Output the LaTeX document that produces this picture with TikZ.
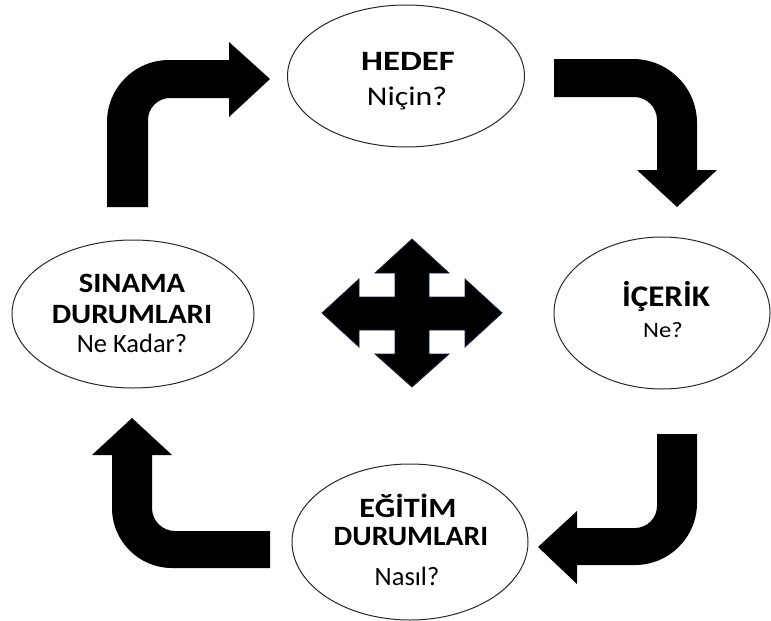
\documentclass[tikz,border=0pt]{standalone}
\usepackage{fontspec}
\usepackage{graphicx}
\setmainfont{Carlito}
\usetikzlibrary{shapes.geometric}
\begin{document}
\begin{tikzpicture}[x=1pt,y=-1pt,
  ell/.style={draw={rgb,255:red,40;green,40;blue,40}, line width=1pt, ellipse, inner sep=0pt},
  blockarrow/.style={fill=black, draw=none},
  crossarrow/.style={fill=black, draw={rgb,255:red,25;green,35;blue,70}, line width=0.8pt, line join=miter},
  ttl/.style={font=\fontsize{28pt}{30pt}\selectfont\bfseries, anchor=base, inner sep=0pt},
  sub/.style={font=\fontsize{27pt}{30pt}\selectfont, anchor=base, inner sep=0pt}
]
\useasboundingbox (0,0) rectangle (771,621);
% ellipses
\node[ell, minimum width=237pt, minimum height=142pt] (hedef) at (406,76) {};
\node[ell, minimum width=216pt, minimum height=152pt] (icerik) at (662,313) {};
\node[ell, minimum width=242pt, minimum height=148pt] (sinama) at (133,314) {};
\node[ell, minimum width=236pt, minimum height=156pt] (egitim) at (410,542) {};
% texts
\node[ttl] (hedefA) at (408,70) {\scalebox{1.24}[1]{HEDEF}};
\node[sub] (hedefB) at (407,105) {\scalebox{1.18}[1]{Niçin?}};
\node[ttl, font=\fontsize{30pt}{32pt}\selectfont\bfseries] (icerikA) at (666,306) {\scalebox{1.1}[1]{İÇERİK}};
\node[sub, font=\fontsize{22pt}{24pt}\selectfont] (icerikB) at (663,337) {\scalebox{1.12}[1]{Ne?}};
\node[ttl] (sinamaA) at (132,292) {\scalebox{1.09}[1]{SINAMA}};
\node[ttl] (sinamaB) at (132,323) {\scalebox{1.1}[1]{DURUMLARI}};
\node[sub, font=\fontsize{26.5pt}{30pt}\selectfont] (sinamaC) at (132,352) {Ne Kadar?};
\node[ttl] (egitimA) at (408,517) {\scalebox{1.15}[1]{EĞİTİM}};
\node[ttl] (egitimB) at (411,545) {\scalebox{1.06}[1]{DURUMLARI}};
\node[sub, font=\fontsize{26.5pt}{30pt}\selectfont] (egitimC) at (407,585) {Nasıl?};
% block arrows
\fill[blockarrow] (107,207) -- (107,122) .. controls (107,87.8) and (134.8,60) .. (169,60)
  -- (229,60) -- (229,42) -- (270,79) -- (229,117) -- (229,98) -- (170,98)
  .. controls (157.9,98) and (148,107.9) .. (148,120) -- (148,207) -- cycle;
\fill[blockarrow] (554,59) -- (633,59) .. controls (668.3,59) and (697,87.7) .. (697,123)
  -- (697,170) -- (717,170) -- (677,207) -- (637,170) -- (657,170) -- (657,120)
  .. controls (657,107.3) and (646.7,97) .. (634,97) -- (554,97) -- cycle;
\fill[blockarrow] (657,434) -- (697,434) -- (697,503) .. controls (697,537.2) and (669.2,565) .. (635,565)
  -- (577,565) -- (577,584) -- (538,547) -- (577,511) -- (577,528) -- (635,528)
  .. controls (647.1,528) and (657,518.1) .. (657,506) -- cycle;
\fill[blockarrow] (270,531) -- (270,568) -- (172,568) .. controls (138.9,568) and (112,541.1) .. (112,508)
  -- (112,455) -- (92,455) -- (132,418) -- (172,455) -- (152,455) -- (152,508)
  .. controls (152,520.7) and (162.3,531) .. (175,531) -- cycle;
% central four-way arrow
\filldraw[crossarrow] (412,239) -- (449,273) -- (429,273) -- (429,297) -- (465,297) -- (465,279)
  -- (502,313) -- (465,347) -- (465,330) -- (429,330) -- (429,354) -- (449,354)
  -- (412,387) -- (375,354) -- (395,354) -- (395,330) -- (359,330) -- (359,347)
  -- (322,313) -- (359,279) -- (359,297) -- (395,297) -- (395,273) -- (375,273) -- cycle;
\end{tikzpicture}
\end{document}
